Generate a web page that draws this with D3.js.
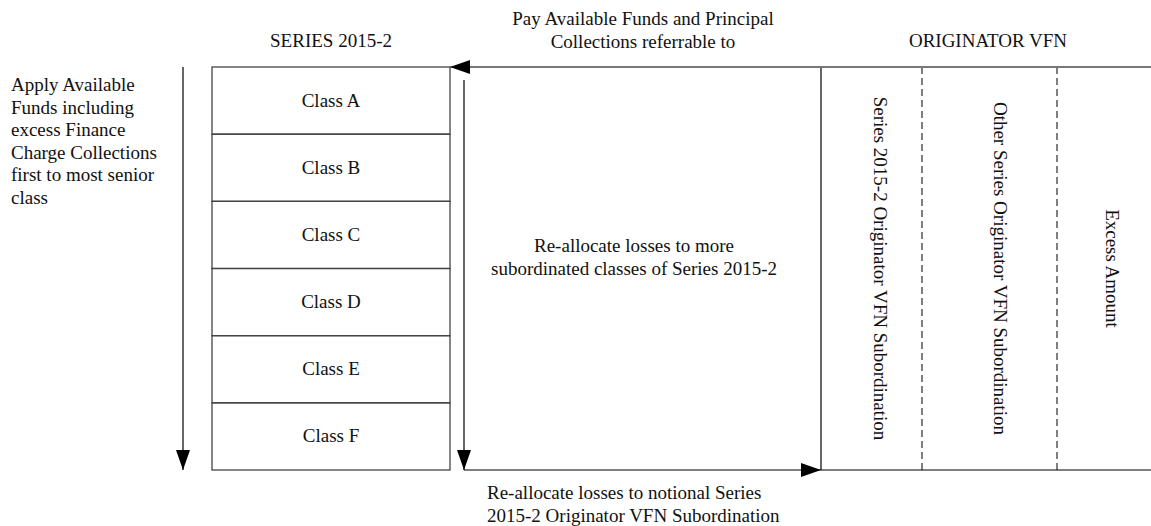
<!DOCTYPE html>
<html>
<head>
<meta charset="utf-8">
<script src="https://cdn.jsdelivr.net/npm/d3@7"></script>
<style>
  body { margin: 0; background: #fff; }
  text { font-family: "Liberation Serif", "Times New Roman", serif; font-size: 19px; fill: #111; }
</style>
</head>
<body>
<div id="container"></div>
<script>
/* DATA */
const classes = ["Class A", "Class B", "Class C", "Class D", "Class E", "Class F"];
const seriesTitle = "SERIES 2015-2";
const vfnTitle = "ORIGINATOR VFN";
const vfnColumns = [
  "Series 2015-2 Originator VFN Subordination",
  "Other Series Originator VFN Subordination",
  "Excess Amount"
];
const applyText = ["Apply Available", "Funds including", "excess Finance", "Charge Collections", "first to most senior", "class"];
const payText = ["Pay Available Funds and Principal", "Collections referrable to"];
const reallocText = ["Re-allocate losses to more", "subordinated classes of Series 2015-2"];
const notionalText = ["Re-allocate losses to notional Series", "2015-2 Originator VFN Subordination"];

/* CONSTANTS */
const width = 1151, height = 526;
const boxTop = 67, boxBottom = 470;
const boxLeft = 212, boxRight = 450;
const lossX = 464, vfnLeft = 821;
const vfnEdges = [821, 922, 1057, 1160];

const svg = d3.select("#container").append("svg")
  .attr("width", width)
  .attr("height", height);

svg.append("defs").append("marker")
  .attr("id", "head")
  .attr("viewBox", "0 0 20 14")
  .attr("refX", 20).attr("refY", 7)
  .attr("markerWidth", 20).attr("markerHeight", 14)
  .attr("markerUnits", "userSpaceOnUse")
  .attr("orient", "auto")
  .append("path")
  .attr("d", "M0,0 L20,7 L0,14 Z")
  .attr("fill", "#000");

// SCALES
const yRow = d3.scaleBand()
  .domain(classes)
  .range([boxTop, boxBottom]);

const xCol = d3.scaleOrdinal()
  .domain(vfnColumns)
  .range(vfnColumns.map((d, i) => (vfnEdges[i] + Math.min(vfnEdges[i + 1], width)) / 2));

// class boxes
svg.selectAll("rect.cls")
  .data(classes)
  .join("rect")
  .attr("class", "cls")
  .attr("x", boxLeft)
  .attr("y", d => yRow(d))
  .attr("width", boxRight - boxLeft)
  .attr("height", yRow.bandwidth())
  .attr("fill", "none")
  .attr("stroke", "#444")
  .attr("stroke-width", 1.3);

svg.selectAll("text.cls")
  .data(classes)
  .join("text")
  .attr("class", "cls")
  .attr("x", (boxLeft + boxRight) / 2)
  .attr("y", d => yRow(d) + yRow.bandwidth() / 2 + 6)
  .attr("text-anchor", "middle")
  .text(d => d);

// originator VFN area
svg.append("line")
  .attr("x1", vfnLeft).attr("x2", vfnLeft)
  .attr("y1", boxTop).attr("y2", boxBottom)
  .attr("stroke", "#000").attr("stroke-width", 1.2);

svg.selectAll("line.dash")
  .data(vfnEdges.slice(1, 3))
  .join("line")
  .attr("class", "dash")
  .attr("x1", d => d).attr("x2", d => d)
  .attr("y1", boxTop).attr("y2", boxBottom)
  .attr("stroke", "#000")
  .attr("stroke-width", 1)
  .attr("stroke-dasharray", "7,4");

svg.append("line")
  .attr("x1", vfnLeft).attr("x2", width)
  .attr("y1", boxBottom).attr("y2", boxBottom)
  .attr("stroke", "#000").attr("stroke-width", 1.2);

// rotated column labels, nudged right of centre like the original
const colOffset = [9, 11, 9];
svg.selectAll("text.col")
  .data(vfnColumns)
  .join("text")
  .attr("class", "col")
  .attr("transform", (d, i) => `translate(${xCol(d) + colOffset[i]},${(boxTop + boxBottom) / 2}) rotate(90)`)
  .attr("text-anchor", "middle")
  .attr("dy", "0.35em")
  .text(d => d);

// arrows
// pay arrow along the top into the class box
svg.append("line")
  .attr("x1", width).attr("x2", boxRight)
  .attr("y1", boxTop).attr("y2", boxTop)
  .attr("stroke", "#777").attr("stroke-width", 2)
  .attr("marker-end", "url(#head)");

// apply available funds (left)
svg.append("line")
  .attr("x1", 183).attr("x2", 183)
  .attr("y1", boxTop).attr("y2", boxBottom)
  .attr("stroke", "#000").attr("stroke-width", 1.2)
  .attr("marker-end", "url(#head)");

// re-allocate downward
svg.append("line")
  .attr("x1", lossX).attr("x2", lossX)
  .attr("y1", 80).attr("y2", boxBottom)
  .attr("stroke", "#000").attr("stroke-width", 1.2)
  .attr("marker-end", "url(#head)");

// re-allocate to notional VFN
svg.append("line")
  .attr("x1", lossX).attr("x2", vfnLeft)
  .attr("y1", boxBottom).attr("y2", boxBottom)
  .attr("stroke", "#000").attr("stroke-width", 1.2)
  .attr("marker-end", "url(#head)");

// TEXT
svg.append("text")
  .attr("x", (boxLeft + boxRight) / 2).attr("y", 47)
  .attr("text-anchor", "middle")
  .text(seriesTitle);

svg.append("text")
  .attr("x", 988).attr("y", 47)
  .attr("text-anchor", "middle")
  .text(vfnTitle);

function block(lines, x, y0, anchor) {
  svg.append("g").selectAll("text")
    .data(lines)
    .join("text")
    .attr("x", x)
    .attr("y", (d, i) => y0 + i * 22.6)
    .attr("text-anchor", anchor)
    .text(d => d);
}

block(applyText, 11, 91, "start");
block(payText, 643, 25, "middle");
block(reallocText, 634, 252, "middle");
block(notionalText, 487, 499, "start");
</script>
</body>
</html>
